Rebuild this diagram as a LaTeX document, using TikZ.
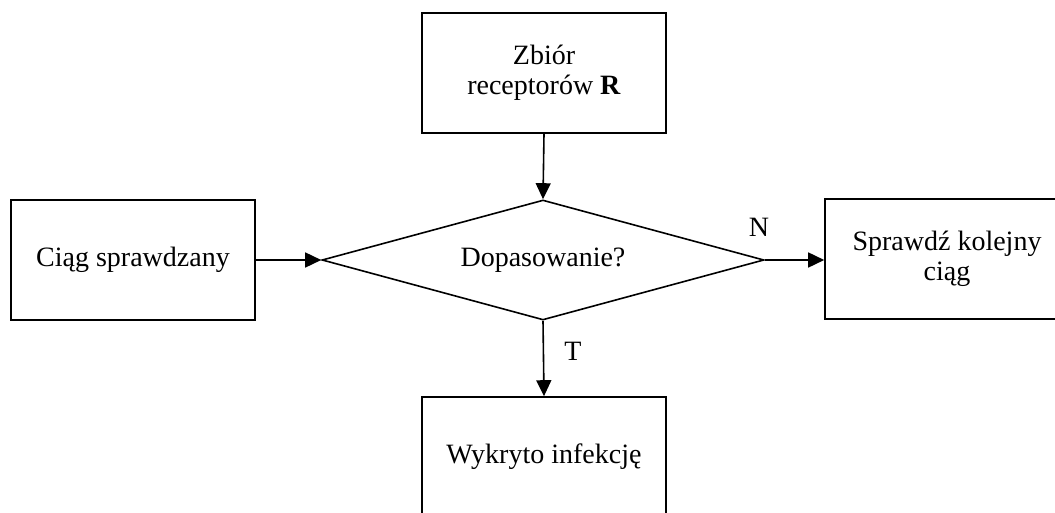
\documentclass[tikz,border=0pt]{standalone}
\usepackage{fontspec}
\setmainfont{Liberation Serif}
\usetikzlibrary{arrows.meta,shapes.geometric}
\begin{document}
\begin{tikzpicture}[x=1pt,y=-1pt,
  every node/.style={font=\fontsize{28}{30}\selectfont},
  box/.style={draw,line width=1.6pt,minimum width=244pt,minimum height=120pt,inner sep=0pt,align=center},
  dec/.style={draw,diamond,line width=1.6pt,minimum width=442pt,minimum height=120pt,inner sep=0pt,aspect=3.68},
  conn/.style={line width=1.6pt,-{Triangle[length=16pt,width=15pt]}},
  lbl/.style={inner sep=0pt}]
\useasboundingbox (0,0) rectangle (1055,513);
\clip (0,0) rectangle (1055,513);
\node[box] (r) at (544,73) {Zbiór\\receptorów \textbf{R}};
\node[box] (c) at (133,260) {Ciąg sprawdzany};
\node[dec] (d) at (543,260) {Dopasowanie?};
\node[box] (s) at (947,259) {Sprawdź kolejny\\ciąg};
\node[box] (w) at (544,457) {Wykryto infekcję};
\draw[conn] (r.south) -- (d.north);
\draw[conn] (c.east) -- (d.west);
\draw[conn] (d.east) -- (s.west |- d.east);
\draw[conn] (d.south) -- (w.north);
\node[lbl] (n) at (759,227) {N};
\node[lbl] (t) at (573,351) {T};
\end{tikzpicture}
\end{document}
